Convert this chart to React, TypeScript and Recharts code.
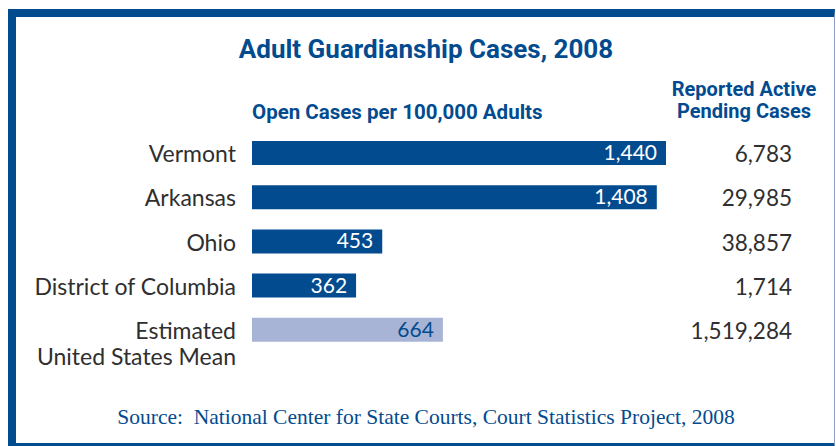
import React from "react";
import { BarChart, Bar, XAxis, YAxis, Cell, LabelList } from "recharts";

const states = ["Vermont", "Arkansas", "Ohio", "District of Columbia", "Estimated\nUnited States Mean"];
const openPer100k = [1440, 1408, 453, 362, 664];
const pendingCases = [6783, 29985, 38857, 1714, 1519284];

const BLUE = "#034b8f";
const LIGHT = "#a8b4d6";
const TEXT = "#2f2f2f";
const SANS = "Lato, 'Open Sans', sans-serif";
const NARROW = "'Liberation Sans Narrow', 'Roboto', sans-serif";

const data = states.map((s, i) => ({
  state: s,
  open: openPer100k[i],
  pending: pendingCases[i].toLocaleString("en-US"),
}));

const StateTick = (props: any) => {
  const { x, y, payload } = props;
  const lines = String(payload.value).split("\n");
  return (
    <text x={x} y={y} textAnchor="end" fill={TEXT} fontFamily={SANS} fontSize={23}>
      {lines.map((l, i) => (
        <tspan key={i} x={x} dy={i === 0 ? 9 : 26}>
          {l}
        </tspan>
      ))}
    </text>
  );
};

const PendingTick = (props: any) => {
  const { x, y, payload } = props;
  return (
    <text x={x} y={y} dy={9} textAnchor="end" fill={TEXT} fontFamily={SANS} fontSize={22.5}>
      {payload.value}
    </text>
  );
};

const BarValue = (props: any) => {
  const { x, y, width, height, value, index } = props;
  const isMean = index === states.length - 1;
  return (
    <text
      x={x + width - 9}
      y={y + height / 2}
      dy={7}
      textAnchor="end"
      fill={isMean ? BLUE : "#ffffff"}
      fontFamily={SANS}
      fontSize={21}
    >
      {Number(value).toLocaleString("en-US")}
    </text>
  );
};

export default function App() {
  return (
    <div
      style={{
        position: "absolute",
        left: 0,
        top: 0,
        width: 836,
        height: 446,
        overflow: "hidden",
        background: "#fff",
      }}
    >
      <div
        style={{
          position: "absolute",
          left: 8,
          top: 9,
          width: 818,
          height: 426,
          borderTop: `8px solid ${BLUE}`,
          borderLeft: `8px solid ${BLUE}`,
          borderBottom: `8px solid ${BLUE}`,
          borderRight: "1px solid #8ea2c6",
        }}
      />
      <div
        style={{
          position: "absolute",
          left: 0,
          width: 852,
          top: 34,
          textAlign: "center",
          color: BLUE,
          fontFamily: NARROW,
          fontWeight: 700,
          fontSize: 26,
        }}
      >
        Adult Guardianship Cases, 2008
      </div>
      <div
        style={{
          position: "absolute",
          left: 252,
          top: 100,
          color: BLUE,
          fontFamily: NARROW,
          fontWeight: 700,
          fontSize: 20.5,
        }}
      >
        Open Cases per 100,000 Adults
      </div>
      <div
        style={{
          position: "absolute",
          left: 660,
          width: 168,
          top: 78,
          textAlign: "center",
          color: BLUE,
          fontFamily: NARROW,
          fontWeight: 700,
          fontSize: 20,
          lineHeight: "22px",
        }}
      >
        Reported Active
        <br />
        Pending Cases
      </div>
      <div style={{ position: "absolute", left: 0, top: 0 }}>
        <BarChart
          width={836}
          height={446}
          data={data}
          layout="vertical"
          margin={{ top: 131, right: 0, bottom: 94, left: 0 }}
          barCategoryGap={10}
        >
          <XAxis type="number" domain={[0, 1440]} hide />
          <YAxis
            yAxisId="left"
            type="category"
            dataKey="state"
            width={252}
            axisLine={false}
            tickLine={false}
            tickMargin={10}
            tick={<StateTick />}
            interval={0}
          />
          <YAxis
            yAxisId="right"
            orientation="right"
            type="category"
            dataKey="pending"
            width={170}
            axisLine={false}
            tickLine={false}
            tickMargin={120}
            tick={<PendingTick />}
            interval={0}
          />
          <Bar yAxisId="left" dataKey="open" barSize={24} isAnimationActive={false}>
            {data.map((d, i) => (
              <Cell key={d.state} fill={i === states.length - 1 ? LIGHT : BLUE} />
            ))}
            <LabelList dataKey="open" content={<BarValue />} />
          </Bar>
        </BarChart>
      </div>
      <div
        style={{
          position: "absolute",
          left: 0,
          width: 852,
          top: 405,
          textAlign: "center",
          color: BLUE,
          fontFamily: "'Liberation Serif', serif",
          fontSize: 21.5,
        }}
      >
        Source:&nbsp; National Center for State Courts, Court Statistics Project, 2008
      </div>
    </div>
  );
}
